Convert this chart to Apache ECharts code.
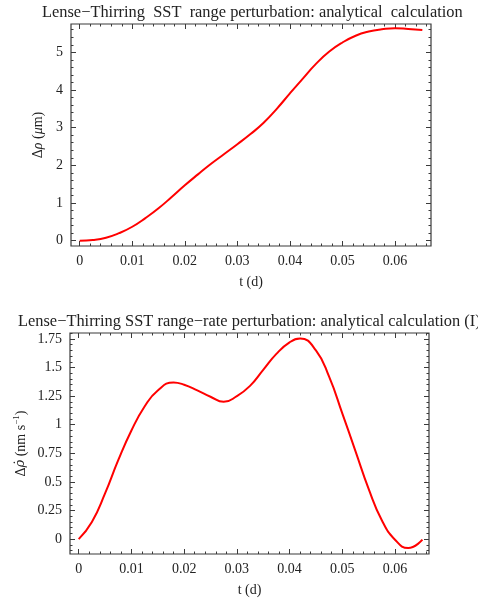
<!DOCTYPE html>
<html>
<head>
<meta charset="utf-8">
<script src="https://cdn.jsdelivr.net/npm/echarts@6/dist/echarts.min.js"></script>
<style>
  html, body { margin: 0; padding: 0; background: #fff; }
  #chart { width: 478px; height: 598px; }
</style>
</head>
<body>
<div id="chart"></div>
<script>
/* ---------- data ---------- */
var rangeTimes = [0, 0.0025, 0.005, 0.0075, 0.01, 0.0125, 0.015, 0.0175, 0.02, 0.0225, 0.025, 0.0275,
    0.03, 0.0325, 0.035, 0.0375, 0.04, 0.0425, 0.045, 0.0475, 0.05, 0.0525, 0.055, 0.0575,
    0.06, 0.0625, 0.0652];

// range perturbation (micrometres)
var rangeVals = [0, 0.02, 0.08, 0.2, 0.37, 0.6, 0.86, 1.16, 1.47, 1.76, 2.04, 2.3,
    2.56, 2.83, 3.13, 3.5, 3.91, 4.31, 4.7, 5.02, 5.26, 5.44, 5.55, 5.61,
    5.64, 5.62, 5.59];

var rateTimes = [0, 0.0025, 0.005, 0.0075, 0.01, 0.0125, 0.015, 0.018, 0.02, 0.0225, 0.025, 0.0275,
    0.03, 0.0325, 0.035, 0.0375, 0.04, 0.042, 0.045, 0.0475, 0.05, 0.0525, 0.055, 0.0575,
    0.06, 0.0625, 0.0652];

// range-rate perturbation (nm/s)
var rateVals = [0, 0.15, 0.4, 0.69, 0.95, 1.16, 1.3, 1.37, 1.35, 1.3, 1.245, 1.2,
    1.25, 1.34, 1.48, 1.62, 1.72, 1.755, 1.65, 1.42, 1.1, 0.77, 0.44, 0.165,
    -0.005, -0.078, -0.005];

var xTicks = [0, 0.01, 0.02, 0.03, 0.04, 0.05, 0.06];
var xTickLabels = ['0', '0.01', '0.02', '0.03', '0.04', '0.05', '0.06'];
var rangeTicks = [0, 1, 2, 3, 4, 5];
var rangeTickLabels = ['0', '1', '2', '3', '4', '5'];
var rateTicks = [0, 0.25, 0.5, 0.75, 1, 1.25, 1.5, 1.75];
var rateTickLabels = ['0', '0.25', '0.5', '0.75', '1', '1.25', '1.5', '1.75'];

/* ---------- helpers ---------- */
var FONT = 'Liberation Serif';
var FRAME = '#3a3a3a';
var INK = '#222';

function minorList(from, to, step, majors) {
    var out = [];
    for (var k = Math.ceil(from / step); k * step <= to; k++) {
        var v = Math.round(k * step * 1e6) / 1e6;
        if (majors.indexOf(v) < 0) out.push(v);
    }
    return out;
}

function pairs(xs, ys) {
    return xs.map(function (x, i) { return [x, ys[i]]; });
}

function labelFor(values, labels) {
    return function (v) {
        for (var i = 0; i < values.length; i++) {
            if (Math.abs(values[i] - v) < 1e-9) return labels[i];
        }
        return '';
    };
}

// one axis that only draws ticks (major or minor) on a given side of a grid
function tickAxis(grid, pos, range, values, len, labels, extra) {
    var ax = {
        type: 'value',
        gridIndex: grid,
        position: pos,
        min: range[0],
        max: range[1],
        splitLine: { show: false },
        axisLine: { show: false, onZero: false },
        axisTick: {
            show: true, inside: true, length: len, customValues: values,
            lineStyle: { color: FRAME, width: 1 }
        },
        axisLabel: labels ? {
            show: true, customValues: values, formatter: labelFor(values, labels),
            fontFamily: FONT, fontSize: 14, color: INK, margin: 8
        } : { show: false }
    };
    if (extra) for (var k in extra) ax[k] = extra[k];
    return ax;
}

var chart = echarts.init(document.getElementById('chart'));

var X1 = [-0.00166, 0.06685], Y1 = [-0.141, 5.751];
var X2 = [-0.00165, 0.06645], Y2 = [-0.130, 1.802];

var xMinor1 = minorList(X1[0], X1[1], 0.002, xTicks);
var xMinor2 = minorList(X2[0], X2[1], 0.002, xTicks);
var yMinor1 = minorList(Y1[0], Y1[1], 0.2, rangeTicks);
var yMinor2 = minorList(Y2[0], Y2[1], 0.05, rateTicks);

var xName = {
    name: 't (d)', nameLocation: 'middle', nameGap: 29,
    nameTextStyle: { fontFamily: FONT, fontSize: 14, color: INK }
};

var option = {
    animation: false,
    backgroundColor: '#fff',
    title: [
        {
            text: 'Lense\u2212Thirring  SST  range perturbation: analytical  calculation',
            left: 42, top: 5, padding: 0,
            textStyle: { fontFamily: FONT, fontSize: 16.4, fontWeight: 'normal', color: INK }
        },
        {
            text: 'Lense\u2212Thirring SST range\u2212rate perturbation: analytical calculation (I)',
            left: 18, top: 314, padding: 0,
            textStyle: { fontFamily: FONT, fontSize: 16.4, fontWeight: 'normal', color: INK }
        }
    ],
    grid: [
        { left: 71, right: 47, top: 24, height: 222, show: true, borderColor: FRAME, borderWidth: 1.2 },
        { left: 70, right: 49, top: 333, height: 223, show: true, borderColor: FRAME, borderWidth: 1.2 }
    ],
    xAxis: [
        tickAxis(0, 'bottom', X1, xTicks, 5, xTickLabels, xName),
        tickAxis(0, 'top', X1, xTicks, 5),
        tickAxis(0, 'bottom', X1, xMinor1, 2.5),
        tickAxis(0, 'top', X1, xMinor1, 2.5),
        tickAxis(1, 'bottom', X2, xTicks, 5, xTickLabels, xName),
        tickAxis(1, 'top', X2, xTicks, 5),
        tickAxis(1, 'bottom', X2, xMinor2, 2.5),
        tickAxis(1, 'top', X2, xMinor2, 2.5)
    ],
    yAxis: [
        tickAxis(0, 'left', Y1, rangeTicks, 5, rangeTickLabels, {
            name: '\u0394{i|\u03C1} ({i|\u03BC}m)', nameLocation: 'middle', nameGap: 25, nameRotate: 90,
            nameTextStyle: {
                fontFamily: FONT, fontSize: 14, color: INK,
                rich: { i: { fontFamily: FONT, fontSize: 14, fontStyle: 'italic', color: INK } }
            }
        }),
        tickAxis(0, 'right', Y1, rangeTicks, 5),
        tickAxis(0, 'left', Y1, yMinor1, 2.5),
        tickAxis(0, 'right', Y1, yMinor1, 2.5),
        tickAxis(1, 'left', Y2, rateTicks, 5, rateTickLabels, {
            name: '\u0394{i|\u03C1\u0307} (nm s{sup|\u22121})', nameLocation: 'middle', nameGap: 40, nameRotate: 90,
            nameMoveOverlap: false,
            nameTextStyle: {
                fontFamily: FONT, fontSize: 14, color: INK, lineHeight: 18,
                rich: {
                    i: { fontFamily: 'DejaVu Serif', fontSize: 13, fontStyle: 'italic', color: INK, lineHeight: 18 },
                    sup: { fontFamily: FONT, fontSize: 9, color: INK, lineHeight: 9, verticalAlign: 'top' }
                }
            }
        }),
        tickAxis(1, 'right', Y2, rateTicks, 5),
        tickAxis(1, 'left', Y2, yMinor2, 2.5),
        tickAxis(1, 'right', Y2, yMinor2, 2.5)
    ],
    series: [
        {
            name: 'range',
            type: 'line',
            xAxisIndex: 0, yAxisIndex: 0,
            data: pairs(rangeTimes, rangeVals),
            smooth: 0.5, showSymbol: false,
            lineStyle: { color: '#ff0000', width: 2 }
        },
        {
            name: 'range-rate',
            type: 'line',
            xAxisIndex: 4, yAxisIndex: 4,
            data: pairs(rateTimes, rateVals),
            smooth: 0.5, showSymbol: false,
            lineStyle: { color: '#ff0000', width: 2 }
        }
    ]
};

chart.setOption(option);
</script>
</body>
</html>
